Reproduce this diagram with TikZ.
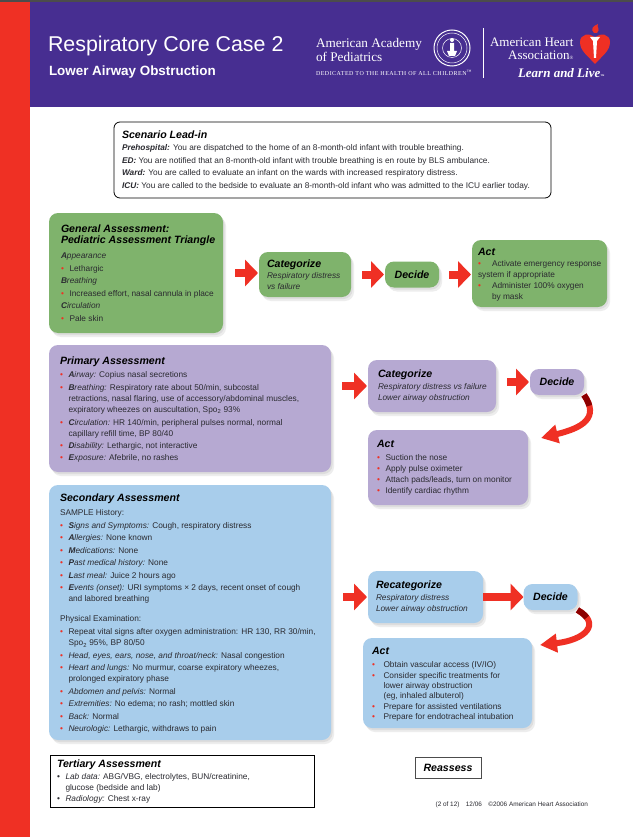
\documentclass[tikz,border=0pt]{standalone}
\usepackage{fontspec}
\setmainfont{Liberation Sans}
\newfontfamily\logofont{Liberation Serif}
\usetikzlibrary{arrows.meta,shadows}

\definecolor{headpurple}{HTML}{472E91}
\definecolor{stripred}{HTML}{EF3024}
\definecolor{boxgreen}{HTML}{7FB36C}
\definecolor{boxpurple}{HTML}{B6A9D2}
\definecolor{boxblue}{HTML}{A8CDEB}
\definecolor{inktext}{HTML}{2A2A30}

\newcommand{\rdot}{\makebox[8.5pt][l]{\textcolor{stripred}{\textbullet}}}
\newcommand{\kdot}{\makebox[8.5pt][l]{\textbullet}}
\newcommand{\cont}{\hspace*{8.5pt}}
\newcommand{\kw}[2]{\textbf{\textit{#1}}\textit{#2}}
\newcommand{\boxhead}[1]{{\fontsize{10.6}{13}\selectfont\bfseries\itshape\color{black}#1}}
\newcommand{\lines}[3]{\makebox[#1][l]{\raisebox{-#2}[\height][\depth]{\begin{tabular}{@{}l@{}}#3\end{tabular}}}}

\begin{document}
\begin{tikzpicture}[x=1pt,y=-1pt]
   \tikzstyle{every node}=[node distance=12pt,outer sep=0pt,text=inktext,font=\fontsize{8.3}{11}\selectfont]
   \tikzstyle{softbox}=[rounded corners=9pt,inner ysep=0pt,drop shadow={opacity=0.14,shadow xshift=1.5pt,shadow yshift=-2pt},drop shadow={opacity=0.14,shadow xshift=3pt,shadow yshift=-4pt}]
   \tikzstyle{greenbox}=[softbox,fill=boxgreen]
   \tikzstyle{purplebox}=[softbox,fill=boxpurple]
   \tikzstyle{bluebox}=[softbox,fill=boxblue]
   \tikzstyle{decidebox}=[inner sep=0pt,minimum width=54pt,minimum height=26pt,align=center]
   \tikzstyle{bigarrow}=[draw=stripred,line width=8pt,-{Triangle[width=26pt,length=13pt,fill=stripred]}]
   \tikzstyle{bendarrow}=[draw=stripred,line width=6pt,-{Triangle[width=18pt,length=17pt,fill=stripred]}]
   \tikzstyle{headtext}=[text=white,inner sep=0pt,anchor=west]

   \useasboundingbox (0,0) rectangle (633,837) ;
   \fill [white] (0,0) rectangle (633,837) ;
   \fill [stripred] (0,2) rectangle (30,837) ;
   \fill [headpurple] (30,2) rectangle (633,107) ;
   \fill [black!70] (0,0) rectangle (633,2) ;

   \node (title) [headtext,font=\fontsize{21.4}{24}\selectfont] at (48,46) {Respiratory Core Case 2} ;
   \node (subtitle) [headtext,font=\fontsize{13.4}{15}\selectfont\bfseries] at (49,72) {Lower Airway Obstruction} ;
   \node (aap) [headtext,align=left,font=\fontsize{13.2}{14}\selectfont\logofont] at (316,50) {American Academy\\of Pediatrics} ;
   \node (aaptag) [headtext,font=\fontsize{6}{6}\selectfont\logofont\addfontfeature{LetterSpace=8}] at (316,73) {DEDICATED TO THE HEALTH OF ALL CHILDREN\textsuperscript{™}} ;
   \node (aha) [headtext,align=right,font=\fontsize{13}{13.5}\selectfont\logofont] at (490,49) {American Heart\\Association\raisebox{0pt}{\fontsize{5}{5}\selectfont ®}} ;
   \node (live) [headtext,font=\fontsize{13}{13}\selectfont\logofont\bfseries\itshape] at (518,73) {Learn and Live\raisebox{0pt}{\fontsize{4}{4}\selectfont ™}} ;

   \draw [white,line width=1pt] (452,48) circle (18) ;
   \draw [white,line width=0.5pt] (452,48) circle (15) ;
   \draw [white,line width=0.5pt] (452,48) circle (9.5) ;
   \fill [white] (452,40) circle (2) (450,43) rectangle (454,51) (447,51) -- (457,51) -- (455,56) -- (449,56) -- cycle ;
   \draw [white,line width=0.8pt] (483,28) -- (483,78) ;

   \fill [stripred] (595,64) .. controls (588,56) and (580,51) .. (580,42) .. controls (580,34) and (590,32) .. (595,38) .. controls (600,32) and (610,34) .. (610,42) .. controls (610,51) and (602,56) .. (595,64) -- cycle ;
   \fill [stripred] (594,33) .. controls (590,29) and (593,26) .. (598,24) .. controls (596,27) and (601,29) .. (597,33) -- cycle ;
   \fill [white] (590,37) -- (600,37) -- (597,41) -- (596,58) -- (594,58) -- (593,41) -- cycle ;

   \node (lead) [draw=black,line width=0.8pt,rounded corners=6pt,anchor=north west,inner xsep=8pt,inner ysep=0pt,minimum height=76pt] at (114,122)
      {\lines{421pt}{1.5pt}{\boxhead{Scenario Lead-in}\\[1pt]
       \kw{Prehospital:}{} You are dispatched to the home of an 8-month-old infant with trouble breathing.\\[1.5pt]
       \kw{ED:}{} You are notified that an 8-month-old infant with trouble breathing is en route by BLS ambulance.\\[1.5pt]
       \kw{Ward:}{} You are called to evaluate an infant on the wards with increased respiratory distress.\\[1.5pt]
       \kw{ICU:}{} You are called to the bedside to evaluate an 8-month-old infant who was admitted to the ICU earlier today.}} ;

   \node (gen) [greenbox,anchor=north west,inner xsep=12pt,minimum height=120pt] at (49,213)
      {\lines{150pt}{2pt}{\boxhead{General Assessment:}\\
       \boxhead{Pediatric Assessment Triangle}\\[4pt]
       \kw{A}{ppearance}\\[1.5pt]
       \rdot Lethargic\\[1.5pt]
       \kw{B}{reathing}\\[1.5pt]
       \rdot Increased effort, nasal cannula in place\\[1.5pt]
       \kw{C}{irculation}\\[1.5pt]
       \rdot Pale skin}} ;
   \node (catg) [greenbox,inner xsep=8pt,minimum height=45pt] at (305,274.5)
      {\lines{76pt}{2pt}{\boxhead{Categorize}\\
       \textit{Respiratory distress}\\
       \textit{vs failure}}} ;
   \node (decg) [greenbox,decidebox,right of=catg,xshift=95pt] {\boxhead{Decide}} ;
   \node (actg) [greenbox,inner xsep=6pt,minimum height=67pt] at (539.5,273.5)
      {\lines{123pt}{2pt}{\boxhead{Act}\\
       \rdot\hspace*{5.5pt}Activate emergency response\\
       system if appropriate\\
       \rdot\hspace*{5.5pt}Administer 100\% oxygen\\
       \cont\hspace*{5.5pt}by mask}} ;

   \draw [bigarrow,shorten <=12pt,shorten >=1pt] (gen.east) -- (gen.east -| catg.west) ;
   \draw [bigarrow,shorten <=11pt,shorten >=1pt] (catg.east |- decg.west) -- (decg.west) ;
   \draw [bigarrow,shorten <=10pt,shorten >=1pt] (decg.east) -- (decg.east -| actg.west) ;

   \node (prim) [purplebox,anchor=north west,inner xsep=11pt,minimum height=127pt] at (49,345)
      {\lines{260pt}{1.5pt}{\boxhead{Primary Assessment}\\[2.5pt]
       \rdot\kw{A}{irway:} Copius nasal secretions\\[1.5pt]
       \rdot\kw{B}{reathing:} Respiratory rate about 50/min, subcostal\\
       \cont retractions, nasal flaring, use of accessory/abdominal muscles,\\
       \cont expiratory wheezes on auscultation, Spo\textsubscript{2} 93\%\\[2pt]
       \rdot\kw{C}{irculation:} HR 140/min, peripheral pulses normal, normal\\
       \cont capillary refill time, BP 80/40\\[1pt]
       \rdot\kw{D}{isability:} Lethargic, not interactive\\[1pt]
       \rdot\kw{E}{xposure:} Afebrile, no rashes}} ;
   \node (catp) [purplebox,anchor=north west,inner xsep=10pt,minimum height=52pt] at (368,360)
      {\lines{108pt}{0.5pt}{\boxhead{Categorize}\\[1pt]
       \textit{Respiratory distress vs failure}\\
       \textit{Lower airway obstruction}}} ;
   \node (decp) [purplebox,decidebox,right of=catp,xshift=113pt,yshift=4pt] {\boxhead{Decide}} ;
   \node (actp) [purplebox,anchor=north west,inner xsep=9pt,minimum height=75pt] at (368,430)
      {\lines{142pt}{1pt}{\boxhead{Act}\\[2pt]
       \rdot Suction the nose\\
       \rdot Apply pulse oximeter\\
       \rdot Attach pads/leads, turn on monitor\\
       \rdot Identify cardiac rhythm}} ;
   \coordinate (tipp) at (541,438) ;

   \draw [bigarrow,shorten >=1pt] ([xshift=11pt]catp.west -| prim.east) -- (catp.west) ;
   \draw [bigarrow,shorten <=11pt,shorten >=1pt] (catp.east |- decp.west) -- (decp.west) ;
   \draw [bendarrow] (decp.south east) .. controls (600,418) and (582,428) .. (tipp) ;
   \draw [draw=red!55!black,line width=6pt,dash pattern=on 12pt off 200pt] (decp.south east) .. controls (600,418) and (582,428) .. (tipp) ;

   \node (sec) [bluebox,anchor=north west,inner xsep=11pt,minimum height=255pt] at (49,485)
      {\lines{260pt}{2pt}{\boxhead{Secondary Assessment}\\[3pt]
       SAMPLE History:\\[2pt]
       \rdot\kw{S}{igns and Symptoms:} Cough, respiratory distress\\[1.5pt]
       \rdot\kw{A}{llergies:} None known\\[1.5pt]
       \rdot\kw{M}{edications:} None\\[1.5pt]
       \rdot\kw{P}{ast medical history:} None\\[1.5pt]
       \rdot\kw{L}{ast meal:} Juice 2 hours ago\\[1.5pt]
       \rdot\kw{E}{vents (onset):} URI symptoms × 2 days, recent onset of cough\\
       \cont and labored breathing\\[9pt]
       Physical Examination:\\[2pt]
       \rdot Repeat vital signs after oxygen administration: HR 130, RR 30/min,\\
       \cont Spo\textsubscript{2} 95\%, BP 80/50\\[1.5pt]
       \rdot\textit{Head, eyes, ears, nose, and throat/neck:} Nasal congestion\\[1.5pt]
       \rdot\textit{Heart and lungs:} No murmur, coarse expiratory wheezes,\\
       \cont prolonged expiratory phase\\[1.5pt]
       \rdot\textit{Abdomen and pelvis:} Normal\\[1.5pt]
       \rdot\textit{Extremities:} No edema; no rash; mottled skin\\[1.5pt]
       \rdot\textit{Back:} Normal\\[1.5pt]
       \rdot\textit{Neurologic:} Lethargic, withdraws to pain}} ;
   \node (recat) [bluebox,anchor=north west,inner xsep=8pt,minimum height=52pt] at (368,571)
      {\lines{99pt}{0.5pt}{\boxhead{Recategorize}\\[1pt]
       \textit{Respiratory distress}\\
       \textit{Lower airway obstruction}}} ;
   \node (decb) [bluebox,decidebox,right of=recat,xshift=113pt] {\boxhead{Decide}} ;
   \node (actb) [bluebox,anchor=north west,inner xsep=9pt,minimum height=90pt] at (363,638)
      {\lines{151pt}{2pt}{\boxhead{Act}\\[2pt]
       \rdot\hspace*{3pt}Obtain vascular access (IV/IO)\\[-0.6pt]
       \rdot\hspace*{3pt}Consider specific treatments for\\[-0.6pt]
       \cont\hspace*{3pt}lower airway obstruction\\[-0.6pt]
       \cont\hspace*{3pt}(eg, inhaled albuterol)\\[-0.6pt]
       \rdot\hspace*{3pt}Prepare for assisted ventilations\\[-0.6pt]
       \rdot\hspace*{3pt}Prepare for endotracheal intubation}} ;
   \coordinate (tipb) at (540,645) ;

   \draw [bigarrow,shorten >=1pt] ([xshift=12pt]recat.west -| sec.east) -- (recat.west) ;
   \draw [bigarrow] (recat.east |- decb.west) -- (decb.west) ;
   \draw [bendarrow] (decb.south east) .. controls (602,624) and (585,640) .. (tipb) ;
   \draw [draw=red!55!black,line width=6pt,dash pattern=on 12pt off 200pt] (decb.south east) .. controls (602,624) and (585,640) .. (tipb) ;

   \node (tert) [draw=black,line width=0.8pt,anchor=north west,inner xsep=7pt,inner ysep=0pt,minimum height=52pt] at (50,755)
      {\lines{250pt}{1pt}{\boxhead{Tertiary Assessment}\\[1pt]
       \kdot\textit{Lab data:} ABG/VBG, electrolytes, BUN/creatinine,\\
       \cont glucose (bedside and lab)\\
       \kdot\textit{Radiology:} Chest x-ray}} ;
   \node (reassess) [draw=black!70,line width=0.8pt,inner sep=0pt,minimum width=66pt,minimum height=21pt] at (448,767.5) {\boxhead{Reassess}} ;
   \node (footer) [inner sep=0pt,anchor=east,font=\fontsize{6.4}{7}\selectfont] at (588,805) {(2 of 12)\quad 12/06\quad \textcopyright 2006 American Heart Association} ;
\end{tikzpicture}
\end{document}
